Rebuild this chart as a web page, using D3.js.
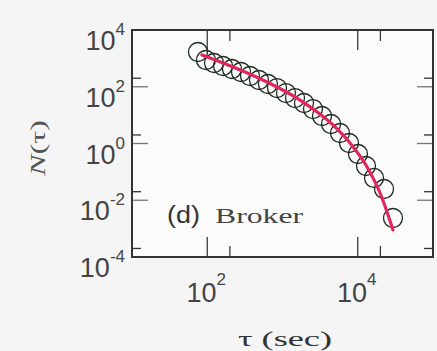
<!DOCTYPE html>
<html>
<head>
<meta charset="utf-8">
<script src="https://cdn.jsdelivr.net/npm/d3@7"></script>
<style>
  html, body { margin: 0; padding: 0; background: #f5f5f5; }
  svg { display: block; }
</style>
</head>
<body>
<svg id="chart" width="437" height="351"></svg>
<script>
// ---- data ----
const tau = [75.3, 96.1, 123, 162, 213, 281, 370, 487, 641, 845, 1112, 1466, 1931, 2542, 3350, 4414, 5810, 7656, 10070, 12870, 16450, 22340, 29380];
const N   = [1679, 877, 687, 538, 422, 331, 239, 173, 125, 90, 60, 40, 26.7, 16.4, 9.3, 4.87, 2.34, 1.04, 0.427, 0.161, 0.061, 0.0249, 0.00237];
const fitTau = [85, 220, 622, 1710, 4690, 7890, 13300, 19800, 29400];
const fitN   = [1315, 497, 147, 34, 4.5, 1.04, 0.149, 0.018, 0.0009];
const xTickExps = [2, 4];
const yTickExps = [-4, -2, 0, 2, 4];
const xMinorTicks = [200, 20000];
const yMinorTicks = [2e-4, 2e-2, 2, 200];
const label = "(d)";
const labelName = "Broker";
const xTitle = "τ (sec)";
const yTitle = "N(τ)";

// ---- layout ----
const svg = d3.select("#chart");
const L = 132, R = 433, T = 30, B = 257;
const x = d3.scaleLog().domain([10, 1e5]).range([L, R]);
const y = d3.scaleLog().domain([1e-4, 1e4]).range([B, T]);

svg.append("rect").attr("x", 0).attr("y", 0).attr("width", 437).attr("height", 351).attr("fill", "#f5f5f5");
svg.append("rect").attr("x", L).attr("y", T).attr("width", R - L).attr("height", B - T).attr("fill", "#fbfbfb");

const tickCol = "#3a3a3a";
const g = svg.append("g");

// x ticks (bottom & top), inward
const xMaj = xTickExps.map(e => Math.pow(10, e));
[[xMaj, 20], [xMinorTicks, 11]].forEach(([vals, len]) => {
  vals.forEach(v => {
    g.append("line").attr("x1", x(v)).attr("x2", x(v)).attr("y1", B).attr("y2", B - len).attr("stroke", tickCol).attr("stroke-width", 1.3);
    g.append("line").attr("x1", x(v)).attr("x2", x(v)).attr("y1", T).attr("y2", T + len).attr("stroke", tickCol).attr("stroke-width", 1.3);
  });
});
// y ticks (left & right), inward
const yMaj = yTickExps.filter(e => e < 4).map(e => Math.pow(10, e));
[[yMaj, 16, "#777"], [yMinorTicks, 9, "#333"]].forEach(([vals, len, col]) => {
  vals.forEach(v => {
    g.append("line").attr("x1", L).attr("x2", L + len).attr("y1", y(v)).attr("y2", y(v)).attr("stroke", col).attr("stroke-width", 1.3);
    g.append("line").attr("x1", R).attr("x2", R - len).attr("y1", y(v)).attr("y2", y(v)).attr("stroke", col).attr("stroke-width", 1.3);
  });
});

// frame
svg.append("rect").attr("x", L).attr("y", T).attr("width", R - L).attr("height", B - T)
  .attr("fill", "none").attr("stroke", "#333").attr("stroke-width", 2);

// y tick labels
const fontSans = "'Liberation Sans', Arial, Helvetica, sans-serif";
yTickExps.forEach(e => {
  const t = svg.append("text").attr("x", 125).attr("y", y(Math.pow(10, e)) + 20)
    .attr("text-anchor", "end").attr("font-family", fontSans).attr("fill", "#444");
  t.append("tspan").attr("font-size", 27).text("10");
  t.append("tspan").attr("font-size", 17).attr("dy", -15).text(String(e));
});
// x tick labels
xTickExps.forEach(e => {
  const t = svg.append("text").attr("x", x(Math.pow(10, e)) - 1).attr("y", 302)
    .attr("text-anchor", "middle").attr("font-family", fontSans).attr("fill", "#444");
  t.append("tspan").attr("font-size", 27).text("10");
  t.append("tspan").attr("font-size", 17).attr("dy", -17).text(String(e));
});

// axis titles
const fontSerif = "'Liberation Serif', 'Times New Roman', serif";
svg.append("text").attr("x", 285).attr("y", 346).attr("text-anchor", "middle")
  .attr("font-family", fontSerif).attr("font-size", 22).attr("fill", "#333")
  .attr("textLength", 94).attr("lengthAdjust", "spacingAndGlyphs").text(xTitle);
const yt = svg.append("text").attr("transform", "translate(45,148) rotate(-90)")
  .attr("text-anchor", "middle").attr("font-family", fontSerif).attr("font-size", 22).attr("fill", "#555")
  .attr("textLength", 56).attr("lengthAdjust", "spacingAndGlyphs");
yt.append("tspan").attr("font-style", "italic").text(yTitle.slice(0, 1));
yt.append("tspan").text(yTitle.slice(1));

// panel label
svg.append("text").attr("x", 167).attr("y", 223).attr("font-family", fontSans).attr("font-size", 23)
  .attr("fill", "#333").attr("textLength", 33).attr("lengthAdjust", "spacingAndGlyphs").text(label);
svg.append("text").attr("x", 215).attr("y", 223).attr("font-family", fontSerif).attr("font-size", 22)
  .attr("fill", "#444").attr("textLength", 88).attr("lengthAdjust", "spacingAndGlyphs").text(labelName);

// data circles
const pts = tau.map((t, i) => ({ t, n: N[i] }));
svg.append("g").selectAll("circle").data(pts).join("circle")
  .attr("cx", d => x(d.t)).attr("cy", d => y(d.n)).attr("r", 9.5)
  .attr("fill", "none").attr("stroke", "#1f2a22").attr("stroke-width", 1.3);

// fit line
const fit = fitTau.map((t, i) => ({ t, n: fitN[i] }));
svg.append("path").datum(fit)
  .attr("d", d3.line().x(d => x(d.t)).y(d => y(d.n)).curve(d3.curveMonotoneX))
  .attr("fill", "none").attr("stroke", "#e2275e").attr("stroke-width", 3.2).attr("stroke-linecap", "round");
</script>
</body>
</html>
